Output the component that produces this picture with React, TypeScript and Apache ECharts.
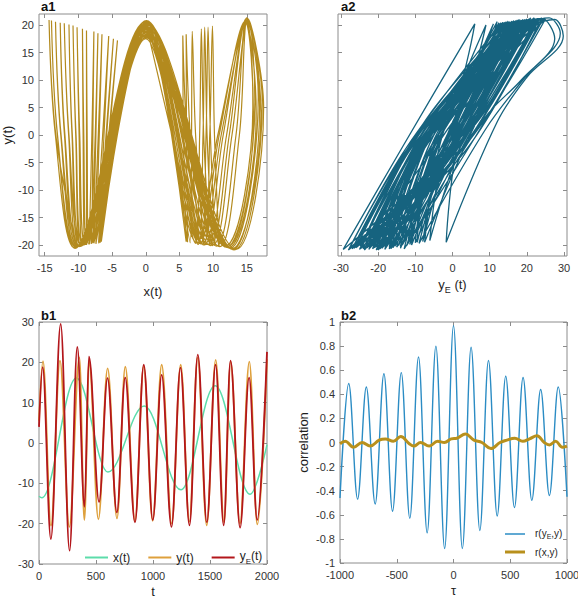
import React, { useEffect, useRef } from 'react';
import * as echarts from 'echarts';

// ---------------- a1 : y(t) against x(t) (key points of the trajectory, one row per slow x-cycle)
const A1_CYCLES: number[][][] = [
  [[-10.3,-20.3],[-13.35,0],[-14.36,20.9],[-13.42,0],[-10.6,-20.5],[0.1,20.8],[11.0,-20.3],[13.9,0],[15.1,21.2],[17.5,5],[13.4,-20.8],[0.0,20.6]],
  [[-10.4,-20.4],[-13.1,0],[-14.0,20.8],[-13.12,0],[-10.5,-20.6],[0.0,20.7],[10.5,-20.2],[13.4,0],[15.0,21.3],[17.3,6],[13.1,-20.9],[-0.1,20.5]],
  [[-10.1,-20.2],[-12.57,0],[-13.4,20.6],[-12.62,0],[-10.3,-20.4],[0.1,20.4],[10.0,-20.0],[12.8,0],[15.2,21.0],[17.1,4],[12.8,-20.7],[0.0,20.3]],
  [[-10.0,-20.1],[-12.0,0],[-12.7,20.4],[-12.07,0],[-10.2,-20.3],[0.0,20.2],[9.6,-20.1],[12.4,0],[14.9,21.1],[16.9,5],[12.9,-20.8],[0.1,20.0]],
  [[-9.6,-20.0],[-11.4,0],[-12.1,20.3],[-11.45,0],[-9.9,-20.2],[-0.1,20.0],[9.2,-19.9],[12.0,0],[15.0,20.9],[16.7,7],[12.5,-20.6],[0.0,19.8]],
  [[-9.5,-20.1],[-10.9,0],[-11.4,20.1],[-10.95,0],[-9.8,-20.3],[0.0,19.7],[8.6,-20.0],[9.5,0],[9.9,19.8],[10.2,0],[10.9,-20.3],[0.1,19.5]],
  [[-9.3,-20.0],[-10.35,0],[-10.8,19.9],[-10.4,0],[-9.6,-20.2],[0.1,19.4],[8.7,-20.0],[11.5,0],[14.8,20.7],[16.4,4],[12.3,-20.5],[0.0,19.2]],
  [[-9.0,-19.9],[-9.8,0],[-10.2,19.6],[-9.9,0],[-9.4,-20.1],[0.0,19.1],[8.4,-19.8],[11.2,0],[15.1,21.0],[16.2,6],[12.0,-20.4],[-0.1,18.9]],
  [[-8.8,-19.8],[-9.2,0],[-9.4,19.3],[-9.3,0],[-9.1,-20.0],[0.1,18.8],[8.2,-19.8],[8.95,0],[9.25,19.6],[9.6,0],[10.3,-20.1],[0.0,18.6]],
  [[-8.5,-19.8],[-8.7,0],[-8.8,19.0],[-8.8,0],[-8.8,-20.0],[0.0,18.5],[8.0,-19.7],[10.9,0],[14.7,20.6],[16.0,3],[12.2,-20.3],[0.1,18.3]],
  [[-8.0,-19.7],[-7.85,0],[-7.7,18.8],[-8.0,0],[-8.4,-19.9],[0.0,18.2],[7.8,-19.9],[8.5,0],[8.75,19.6],[9.1,0],[9.9,-20.2],[0.0,18.0]],
  [[-7.8,-19.6],[-7.4,0],[-7.1,18.5],[-7.5,0],[-8.1,-19.8],[0.1,17.9],[7.6,-19.6],[10.7,0],[14.9,20.8],[15.9,5],[11.8,-20.2],[0.0,17.7]],
  [[-7.4,-19.5],[-6.9,0],[-6.5,18.3],[-7.05,0],[-7.7,-19.7],[0.0,17.5],[7.4,-19.7],[8.0,0],[8.25,19.3],[8.6,0],[9.5,-20.0],[0.0,20.7]],
  [[-7.0,-19.6],[-6.2,0],[-5.5,18.0],[-6.4,0],[-7.4,-19.8],[0.0,20.5],[6.6,-19.6],[6.8,0],[6.9,18.85],[7.4,0],[8.6,-19.8],[0.1,20.2]],
  [[-6.9,-19.5],[-5.8,0],[-4.8,17.5],[-5.9,0],[-7.0,-19.7],[0.0,19.9],[6.2,-19.5],[6.05,0],[6.0,18.3],[6.6,0],[8.0,-19.7],[0.0,19.6]],
  [[-6.6,-19.4],[-5.4,0],[-4.2,17.2],[-5.5,0],[-6.8,-19.6],[0.0,19.3],[6.0,-19.4],[5.6,0],[5.5,18.1],[6.1,0],[7.6,-19.6],[0.0,20.4]],
];

// ---------------- a2 : y(t) against yE(t) (bottom tip, rising crossing, top tip, [outer bulge], falling crossing)
const A2_CYCLES: number[][][] = [
  [[-20.0,-20.6],[-4.3,2],[20.0,20.8],[0.3,-2]],
  [[-29.4,-20.8],[-13.3,-2],[6.0,20.2],[-2.15,1]],
  [[-26.0,-20.5],[-5.95,3],[21.0,21.0],[1.45,-3]],
  [[-15.0,-20.4],[-4.85,-1],[27.5,21.0],[29.8,18.0],[20.0,10.5],[12.1,2.5]],
  [[-1.7,-19.5],[2.35,1],[16.0,20.5],[-0.35,-1]],
  [[-22.0,-20.4],[-9.55,-3],[24.0,21.2],[27.5,17.5],[18.5,10.0],[8.55,3]],
  [[-12.3,-20.1],[-2.6,0.5],[12.0,20.6],[-1.1,-2.5]],
  [[-27.6,-20.5],[-12.1,-2.5],[18.0,21.0],[0.4,0.5]],
  [[-19.5,-20.1],[-5.4,2.5],[22.0,21.3],[4.3,1.5]],
  [[-6.1,-19.2],[-1.4,-0.5],[14.0,20.4],[2.2,-1.5]],
  [[-25.8,-20.4],[-7.3,2],[20.5,20.9],[0.8,-2]],
  [[-17.0,-20.7],[-8.2,-2],[26.0,21.3],[29.0,18.5],[19.5,10.5],[8.85,1]],
  [[-9.0,-19.7],[0.55,3],[11.0,20.2],[-3.55,-3]],
  [[-23.7,-20.9],[-8.85,-1],[17.0,20.8],[3.6,2.5]],
  [[-14.0,-20.3],[-4.15,1],[23.0,21.2],[4.15,-1]],
  [[-20.5,-20.9],[-9.55,-3],[15.0,20.7],[3.05,3]],
  [[-11.0,-20.0],[-3.6,0.5],[19.0,21.0],[0.9,-2.5]],
  [[-28.0,-20.9],[-12.6,-2.5],[13.0,20.3],[-1.1,0.5]],
  [[-16.0,-20.5],[-3.9,2.5],[21.5,21.1],[5.8,1.5]],
  [[-7.5,-19.5],[-2.9,-0.5],[9.0,20.0],[-1.3,-1.5]],
  [[-24.5,-20.6],[-7.3,2],[19.5,20.9],[0.3,-2]],
  [[-18.5,-20.3],[-8.2,-2],[24.5,21.2],[7.35,1]],
  [[-13.0,-20.7],[-1.95,3],[16.5,20.6],[0.0,-3]],
  [[-21.0,-20.5],[-8.35,-1],[22.5,21.0],[6.1,2.5]],
  [[-21.5,-20.2],[-5.65,1],[18.5,20.9],[0.15,-1]],
  [[-17.5,-20.0],[-8.05,-3],[20.5,21.1],[6.05,3]],
  [[-24.0,-20.7],[-8.1,0.5],[14.5,20.6],[-2.6,-2.5]],
  [[-12.0,-19.8],[-5.6,-2.5],[22.0,21.0],[5.9,0.5]],
  [[-19.0,-20.6],[-3.9,2.5],[17.5,20.8],[3.3,1.5]],
  [[-15.5,-20.2],[-5.4,-0.5],[13.5,20.5],[-1.3,-1.5]],
  [[-22.5,-20.8],[-6.3,2],[23.5,21.2],[2.8,-2]],
  [[-10.0,-19.6],[-4.7,-2],[18.0,20.9],[3.35,1]],
  [[-26.5,-20.6],[-6.95,3],[15.5,20.6],[-3.55,-3]],
  [[-18.0,-20.4],[-7.35,-1],[21.0,21.2],[5.6,2.5]],
  [[-13.5,-20.0],[-3.15,1],[12.5,20.4],[-1.35,-1]],
  [[-20.5,-20.3],[-10.05,-3],[19.5,21.0],[4.05,3]],
  [[-16.5,-20.6],[-5.1,0.5],[24.0,21.3],[3.9,-2.5]],
  [[-23.0,-20.5],[-10.1,-2.5],[16.0,20.7],[0.9,0.5]],
  [[-8.0,-19.4],[0.1,2.5],[20.0,20.9],[5.3,1.5]],
  [[-19.5,-20.7],[-7.4,-0.5],[14.0,20.5],[-1.8,-1.5]],
  [[-14.5,-20.1],[-2.8,2],[21.5,21.0],[1.3,-2]],
  [[-25.0,-20.8],[-10.7,-2],[18.5,20.8],[1.85,1]],
  [[-11.5,-19.9],[-0.95,3],[15.0,20.6],[-1.05,-3]],
  [[-17.0,-20.3],[-6.85,-1],[22.5,21.1],[6.6,2.5]],
  [[-22.8,-20.3],[-5.7,1.5],[19.0,20.7],[1.15,-1]],
  [[-16.8,-20.5],[-7.1,-1.5],[23.0,21.0],[6.2,2]],
  [[-27.0,-20.7],[-8.65,1],[17.5,20.9],[-1.2,-2]],
  [[-9.5,-19.5],[-4.2,-2],[25.0,21.1],[7.3,1.5]],
  [[-20.0,-20.9],[-4.8,2],[13.0,20.4],[-1.8,-1.5]],
  [[-14.0,-20.6],[-4.85,-1],[21.0,21.3],[5.6,2.5]],
  [[-24.8,-20.2],[-5.9,2.5],[16.5,20.8],[-1.1,-2.5]],
  [[-18.2,-20.8],[-8.3,-2.5],[20.0,21.1],[3.85,1]],
  [[-11.0,-19.8],[-2.15,1],[23.5,21.2],[4.6,-0.5]],
  [[-21.5,-20.7],[-8.05,-1],[17.0,20.6],[3.2,2]],
];

// ---------------- b1 : time series (turning points)
const B1_X_T = [0, 25, 328, 605, 923, 1245, 1545, 1852, 2000];
const B1_X_V = [-13.2, -13.6, 16.1, -7.2, 9.2, -11.6, 14.2, -12.7, -0.4];
const B1_Y_T = [0, 35, 105, 184, 266, 354, 398, 440, 521, 602, 684, 757, 842, 918, 997, 1076, 1164, 1243, 1319, 1392, 1471, 1550, 1623, 1681, 1763, 1845, 1915, 2000];
const B1_Y_V = [5.5, 20.3, -20.5, 20.4, -20.8, 21.2, -19.1, 20.3, -18.9, 18.5, -18.7, 18.9, -19.4, 19.0, -19.3, 19.4, -20.0, 19.4, -19.5, 21.2, -20.4, 20.6, -19.7, 20.2, -20.0, 20.2, -20.2, 20.8];
const B1_YE_T = [0, 32, 104, 190, 268, 336, 399, 438, 527, 601, 683, 756, 842, 919, 998, 1076, 1162, 1241, 1320, 1393, 1472, 1549, 1620, 1680, 1764, 1843, 1914, 2000];
const B1_YE_V = [4.0, 18.8, -23.8, 29.5, -26.7, 23.8, -15.8, 21.4, -14.6, 16.1, -17.2, 16.2, -19.7, 19.4, -19.1, 16.9, -20.8, 18.7, -20.4, 21.9, -19.7, 19.4, -20.4, 20.4, -21.0, 16.2, -19.1, 22.6];

// ---------------- b2 : correlations
const B2_RYE_TAU = [-1000, -923, -845, -768, -690, -613, -537, -460, -385, -308, -232, -155, -78, 0, 78, 155, 232, 308, 385, 460, 537, 613, 690, 768, 845, 923, 1000];
const B2_RYE_V = [-0.46, 0.49, -0.47, 0.46, -0.51, 0.57, -0.57, 0.58, -0.63, 0.71, -0.75, 0.80, -0.88, 0.97, -0.88, 0.79, -0.73, 0.68, -0.61, 0.55, -0.54, 0.54, -0.48, 0.44, -0.44, 0.46, -0.45];
const B2_RX_TAU = [-1000, -955, -880, -805, -735, -655, -600, -530, -465, -390, -350, -290, -215, -140, -80, -20, 30, 105, 180, 250, 330, 410, 470, 540, 610, 670, 735, 800, 845, 900, 960, 1000];
const B2_RX_V = [-0.01, 0.01, -0.04, 0.0, -0.03, 0.02, 0.03, 0.01, 0.05, -0.01, -0.03, 0.0, -0.03, 0.01, 0.0, 0.03, 0.035, 0.07, 0.02, 0.0, -0.05, 0.0, 0.02, 0.035, 0.01, 0.03, 0.055, 0.0, -0.02, 0.01, -0.04, -0.03];

// ---------------- ticks
const A1_X_TICKS = [-15, -10, -5, 0, 5, 10, 15];
const A1_Y_TICKS = [-20, -15, -10, -5, 0, 5, 10, 15, 20];
const A2_X_TICKS = [-30, -20, -10, 0, 10, 20, 30];
const B1_X_TICKS = [0, 500, 1000, 1500, 2000];
const B1_Y_TICKS = [-30, -20, -10, 0, 10, 20, 30];
const B2_X_TICKS = [-1000, -500, 0, 500, 1000];
const B2_Y_TICKS = [-1, -0.8, -0.6, -0.4, -0.2, 0, 0.2, 0.4, 0.6, 0.8, 1];

const FONT = "'Liberation Sans', Arial, Helvetica, sans-serif";
const BOX = '#8c8c8c';
const LABEL = '#333333';
const NAME = '#1e1e1e';
const C_A1 = '#b38a1e';
const C_A2 = '#16637f';
const C_X = '#5cdcaa';
const C_Y = '#dea03c';
const C_YE = '#b3161b';
const C_RYE = '#2b8cc4';
const C_RX = '#b8901c';

const zip = (a: number[], b: number[]) => a.map((v, i) => [v, b[i]]);

const richFor = (size: number, sub: number) => ({
  i: { fontSize: size, fontFamily: FONT, color: NAME, verticalAlign: 'bottom', padding: [0, 0, 3, 0] },
  s: { fontSize: sub, fontFamily: FONT, color: NAME, verticalAlign: 'bottom' },
});

type AxisSpec = {
  grid: number; min: number; max: number; ticks: number[]; labels: boolean;
  name?: string; nameGap?: number; rich?: any;
};

function pairAxes(dim: 'x' | 'y', s: AxisSpec) {
  const common: any = {
    type: 'value', gridIndex: s.grid, min: s.min, max: s.max,
    splitLine: { show: false },
    axisLine: { show: false, onZero: false },
    axisTick: { show: true, inside: true, length: 4, lineStyle: { color: BOX, width: 1 }, customValues: s.ticks },
  };
  const main: any = {
    ...common,
    position: dim === 'x' ? 'bottom' : 'left',
    axisLabel: {
      show: s.labels, customValues: s.ticks, margin: dim === 'x' ? 6 : 5,
      color: LABEL, fontSize: 11, fontFamily: FONT,
      formatter: (v: number) => String(v),
    },
  };
  if (s.name) {
    main.name = s.name;
    main.nameLocation = 'middle';
    main.nameGap = s.nameGap;
    main.nameTextStyle = { fontSize: 13, fontFamily: FONT, color: NAME, rich: s.rich };
  }
  const mirror: any = { ...common, position: dim === 'x' ? 'top' : 'right', axisLabel: { show: false } };
  return [main, mirror];
}

const grid = (left: number, top: number, width: number, height: number) => ({
  left, top, width, height, show: true, borderColor: BOX, borderWidth: 1, backgroundColor: 'transparent', outerBoundsMode: 'none',
});

const panelLabel = (text: string, x: number, y: number) => ({
  type: 'text', x, y, z: 100,
  style: { text, fontSize: 13, fontWeight: 'bold', fontFamily: FONT, fill: '#111', verticalAlign: 'top', align: 'left' },
});

function buildOption(): any {
  const xAxis = [
    ...pairAxes('x', { grid: 0, min: -15.85, max: 18, ticks: A1_X_TICKS, labels: true, name: 'x(t)', nameGap: 29 }),
    ...pairAxes('x', { grid: 1, min: -30.8, max: 30.8, ticks: A2_X_TICKS, labels: true, name: '{i|y}{s|E}{i| (t)}', nameGap: 22, rich: richFor(13, 9) }),
    ...pairAxes('x', { grid: 2, min: 0, max: 2000, ticks: B1_X_TICKS, labels: true, name: 't', nameGap: 21 }),
    ...pairAxes('x', { grid: 3, min: -1000, max: 1000, ticks: B2_X_TICKS, labels: true, name: 'τ', nameGap: 21 }),
  ];
  const yAxis = [
    ...pairAxes('y', { grid: 0, min: -22, max: 22, ticks: A1_Y_TICKS, labels: true, name: 'y(t)', nameGap: 22 }),
    ...pairAxes('y', { grid: 1, min: -22, max: 22, ticks: A1_Y_TICKS, labels: false }),
    ...pairAxes('y', { grid: 2, min: -30, max: 30, ticks: B1_Y_TICKS, labels: true }),
    ...pairAxes('y', { grid: 3, min: -1, max: 1, ticks: B2_Y_TICKS, labels: true, name: 'correlation', nameGap: 30 }),
  ];
  const line = (name: string, xi: number, data: number[][], color: string, width: number, smooth: number, mono?: 'x') => ({
    type: 'line', name, xAxisIndex: xi, yAxisIndex: xi, data, smooth, smoothMonotone: mono,
    symbol: 'none', showSymbol: false, clip: true, silent: true,
    lineStyle: { color, width }, itemStyle: { color },
    emphasis: { disabled: true },
  });
  const legendRich = {
    i: { fontSize: 12, fontFamily: FONT, color: NAME, verticalAlign: 'bottom', padding: [0, 0, 3, 0] },
    s: { fontSize: 8, fontFamily: FONT, color: NAME, verticalAlign: 'bottom' },
  };
  const legendRich2 = {
    i: { fontSize: 10, fontFamily: FONT, color: NAME, verticalAlign: 'bottom', padding: [0, 0, 2, 0] },
    s: { fontSize: 7, fontFamily: FONT, color: NAME, verticalAlign: 'bottom' },
  };
  return {
    animation: false,
    backgroundColor: '#ffffff',
    textStyle: { fontFamily: FONT },
    grid: [grid(39, 14, 228, 242), grid(338, 14, 229, 242), grid(39, 322, 228, 242), grid(340, 322, 227, 241)],
    xAxis,
    yAxis,
    legend: [
      {
        data: ['x(t)', 'y(t)', 'yE(t)'], left: 80, top: 545, orient: 'horizontal', icon: 'rect',
        itemWidth: 23, itemHeight: 2, itemGap: 18, selectedMode: false,
        textStyle: { fontSize: 12, fontFamily: FONT, color: NAME, rich: legendRich },
        formatter: (n: string) => (n === 'yE(t)' ? '{i|y}{s|E}{i|(t)}' : n),
      },
      {
        data: ['r(yE,y)'], left: 500, top: 523, orient: 'vertical', icon: 'rect',
        itemWidth: 20, itemHeight: 1.5, selectedMode: false,
        textStyle: { fontSize: 10, fontFamily: FONT, color: NAME, rich: legendRich2, padding: [0, 0, 0, 5] },
        formatter: () => '{i|r(y}{s|E}{i|,y)}',
      },
      {
        data: ['r(x,y)'], left: 500, top: 542, orient: 'vertical', icon: 'rect',
        itemWidth: 20, itemHeight: 3, selectedMode: false,
        textStyle: { fontSize: 10, fontFamily: FONT, color: NAME, padding: [0, 0, 0, 5] },
      },
    ],
    graphic: [
      panelLabel('a1', 41, 0),
      panelLabel('a2', 341, 0),
      panelLabel('b1', 41, 309),
      panelLabel('b2', 341, 309),
    ],
    series: [
      line('a1', 0, A1_CYCLES.flat(), C_A1, 1.2, 0.35),
      line('a2', 2, A2_CYCLES.flat(), C_A2, 1.3, 0.35),
      line('x(t)', 4, zip(B1_X_T, B1_X_V), C_X, 1.5, 0.36, 'x'),
      line('y(t)', 4, zip(B1_Y_T, B1_Y_V), C_Y, 1.8, 0.36, 'x'),
      line('yE(t)', 4, zip(B1_YE_T, B1_YE_V), C_YE, 1.8, 0.36, 'x'),
      line('r(yE,y)', 6, zip(B2_RYE_TAU, B2_RYE_V), C_RYE, 1.4, 0.36, 'x'),
      line('r(x,y)', 6, zip(B2_RX_TAU, B2_RX_V), C_RX, 3, 0.4),
    ],
  };
}

export default function App() {
  const ref = useRef<HTMLDivElement>(null);
  useEffect(() => {
    if (!ref.current) return;
    const chart = echarts.init(ref.current, null, { renderer: 'svg' });
    chart.setOption(buildOption());
    return () => chart.dispose();
  }, []);
  return (
    <div
      ref={ref}
      style={{ position: 'absolute', left: 0, top: 0, width: 578, height: 600, background: '#fff' }}
    />
  );
}
